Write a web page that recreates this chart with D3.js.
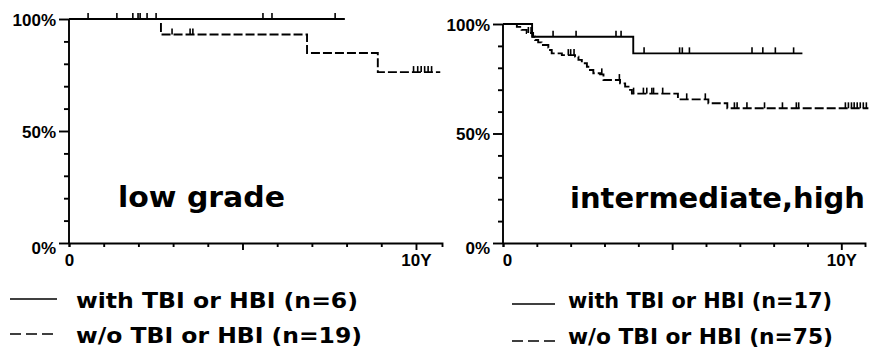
<!DOCTYPE html>
<html>
<head>
<meta charset="utf-8">
<script src="https://cdn.jsdelivr.net/npm/d3@7"></script>
<style>
  html, body { margin: 0; padding: 0; background: #fff; }
  svg { display: block; }
  text { font-family: "DejaVu Sans", "Liberation Sans", sans-serif; font-weight: bold; fill: #000; }
  .axlab { font-family: "Liberation Sans", Arial, sans-serif; }
</style>
</head>
<body>
<svg id="chart" width="872" height="354"></svg>
<script>
// ---------- data (years, survival %) ----------
const yTickValues = [0, 10, 20, 30, 40, 50, 60, 70, 80, 90, 100];
const yTickLabels = { 0: "0%", 50: "50%", 100: "100%" };
const xTickValues = [0, 1, 2, 3, 4, 5, 6, 7, 8, 9, 10];
const xTickLabels = { 0: "0", 10: "10Y" };

// low grade
const lowWithTimes = [0, 7.95];
const lowWithSurv  = [100, 100];
const lowWithCens  = [0.55, 1.38, 1.84, 1.99, 2.05, 2.25, 2.51, 5.59, 5.85, 7.67];
const lowWoTimes = [0, 2.65, 6.86, 8.9, 10.7];
const lowWoSurv  = [100, 93.1, 84.8, 76.3, 76.3];
const lowWoCens  = [2.97, 3.49, 3.57, 9.93, 10.05, 10.15, 10.25, 10.35, 10.45];

// intermediate, high
const ihWithTimes = [0, 0.86, 3.85, 8.85];
const ihWithSurv  = [100, 94.2, 86.6, 86.6];
const ihWithCens  = [1.48, 2.16, 3.34, 3.49, 4.17, 5.22, 5.30, 5.51, 7.36, 7.68, 8.05, 8.59];
const ihWoTimes = [0, 0.41, 0.55, 0.70, 0.89, 0.95, 1.04, 1.14, 1.34, 1.39, 1.44, 1.74, 2.13, 2.23, 2.33, 2.48, 2.57, 2.67, 2.87, 2.97, 3.46, 3.61, 3.71, 3.81, 5.17, 6.07, 6.63, 10.8];
const ihWoSurv  = [100, 98.7, 97.3, 95.9, 94.2, 92.7, 91.6, 90.4, 89.2, 88.1, 86.6, 85.8, 85.1, 83.6, 82.1, 80.5, 79.0, 77.5, 77.0, 74.4, 72.9, 71.4, 69.9, 68.2, 65.6, 63.8, 61.5, 61.5];
const ihWoCens  = [0.75, 0.83, 1.93, 2.00, 2.10, 2.92, 3.44, 3.86, 4.15, 4.25, 4.40, 4.45, 4.72, 5.43, 5.98, 6.84, 6.92, 7.21, 7.73, 8.26, 8.67, 8.74, 10.12, 10.21, 10.30, 10.38, 10.47, 10.56, 10.65, 10.74];

const panelLabels = ["low grade", "intermediate,high"];
const legendLeft  = ["with TBI or HBI (n=6)", "w/o TBI or HBI (n=19)"];
const legendRight = ["with TBI or HBI (n=17)", "w/o TBI or HBI (n=75)"];

// ---------- drawing ----------
const svg = d3.select("#chart");

function survAt(times, surv, t) {
  let s = surv[0];
  for (let i = 0; i < times.length; i++) { if (times[i] <= t) s = surv[i]; }
  return s;
}

function panel(cfg) {
  const x = d3.scaleLinear().domain([0, cfg.xMax]).range([cfg.x0, cfg.x1]);
  const y = d3.scaleLinear().domain([0, 100]).range([cfg.y0, cfg.y1]);
  const g = svg.append("g");

  // y axis minor ticks
  const yMinor = d3.axisLeft(y).tickValues(yTickValues.filter(v => !(v in yTickLabels))).tickSize(5).tickFormat("");
  const ym = g.append("g").attr("transform", `translate(${cfg.x0},0)`).call(yMinor);
  ym.select(".domain").remove();
  // y axis major
  const yMajor = d3.axisLeft(y).tickValues(yTickValues.filter(v => v in yTickLabels)).tickSize(10).tickPadding(3)
    .tickFormat(d => yTickLabels[d]);
  const yM = g.append("g").attr("transform", `translate(${cfg.x0},0)`).call(yMajor);
  yM.select(".domain").attr("d", `M0,${cfg.y0}V${cfg.y1}`);
  yM.selectAll("text").attr("class", "axlab").attr("font-size", 17).attr("font-family", null)
    .attr("dy", d => d === 0 ? "0.6em" : "0.36em");

  // x axis
  const xAxis = d3.axisBottom(x).tickValues(xTickValues).tickSizeOuter(0)
    .tickSize(4).tickPadding(4).tickFormat(d => xTickLabels[d] || "");
  const xa = g.append("g").attr("transform", `translate(0,${cfg.y0})`).call(xAxis);
  xa.selectAll(".tick line").attr("y2", d => (d % 5 === 0 && d > 0) ? 7 : 4);
  xa.selectAll("text").attr("class", "axlab").attr("font-size", 17).attr("font-family", null).attr("dy", "0.9em");
  xa.selectAll(".tick").filter(d => d === 0).select("text").attr("dx", cfg.zeroDx);
  g.selectAll(".domain, .tick line").attr("stroke", "#000").attr("stroke-width", 1.9);

  const line = d3.line().x(d => x(d[0])).y(d => y(d[1])).curve(d3.curveStepAfter);
  cfg.curves.forEach(c => {
    const pts = c.times.map((t, i) => [t, c.surv[i]]);
    g.append("path").attr("d", line(pts)).attr("fill", "none").attr("stroke", "#000")
      .attr("stroke-width", 1.9).attr("stroke-dasharray", c.dash || null);
    g.selectAll(null).data(c.cens).enter().append("line")
      .attr("x1", d => x(d)).attr("x2", d => x(d))
      .attr("y1", d => y(survAt(c.times, c.surv, d)))
      .attr("y2", d => y(survAt(c.times, c.surv, d)) - 6)
      .attr("stroke", "#000").attr("stroke-width", 1.6);
  });

  g.append("text").attr("x", cfg.label.x).attr("y", cfg.label.y).attr("font-size", 29)
    .attr("textLength", cfg.label.w).attr("lengthAdjust", "spacingAndGlyphs").text(cfg.label.text);

  cfg.legend.forEach(l => {
    g.append("line").attr("x1", l.lx0).attr("x2", l.lx1).attr("y1", l.ly).attr("y2", l.ly)
      .attr("stroke", "#000").attr("stroke-width", 1.4).attr("stroke-dasharray", l.dash || null);
    g.append("text").attr("x", l.tx).attr("y", l.ty).attr("font-size", 22)
      .attr("textLength", l.w).attr("lengthAdjust", "spacingAndGlyphs").text(l.text);
  });
}

panel({
  x0: 69, x1: 442, xMax: 10.75, y0: 243, y1: 19, zeroDx: 0,
  curves: [
    { times: lowWithTimes, surv: lowWithSurv, cens: lowWithCens },
    { times: lowWoTimes, surv: lowWoSurv, cens: lowWoCens, dash: "9,3" }
  ],
  label: { text: panelLabels[0], x: 118, y: 207, w: 167 },
  legend: [
    { text: legendLeft[0], lx0: 10, lx1: 57, ly: 299, tx: 76, ty: 308, w: 282 },
    { text: legendLeft[1], lx0: 10, lx1: 57, ly: 334, tx: 76, ty: 343, w: 286, dash: "11,5" }
  ]
});

panel({
  x0: 503, x1: 865, xMax: 10.7, y0: 243, y1: 24, zeroDx: 4,
  curves: [
    { times: ihWithTimes, surv: ihWithSurv, cens: ihWithCens },
    { times: ihWoTimes, surv: ihWoSurv, cens: ihWoCens, dash: "9,3" }
  ],
  label: { text: panelLabels[1], x: 570, y: 208, w: 295 },
  legend: [
    { text: legendRight[0], lx0: 512, lx1: 555, ly: 304, tx: 568, ty: 308, w: 264 },
    { text: legendRight[1], lx0: 512, lx1: 555, ly: 341, tx: 568, ty: 344, w: 265, dash: "11,5" }
  ]
});
</script>
</body>
</html>
